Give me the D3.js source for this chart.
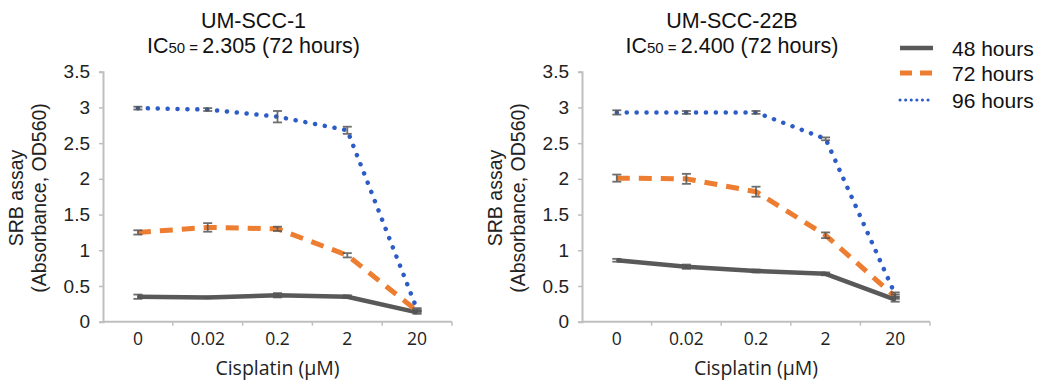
<!DOCTYPE html>
<html>
<head>
<meta charset="utf-8">
<script src="https://cdn.jsdelivr.net/npm/d3@7"></script>
<style>
  html, body { margin: 0; padding: 0; background: #fff; }
  svg { display: block; }
</style>
</head>
<body>
<svg id="chart" width="1040" height="385"></svg>
<script>
// ---- data ----
const categories = ["0", "0.02", "0.2", "2", "20"];
const yTickValues = [0, 0.5, 1, 1.5, 2, 2.5, 3, 3.5];
const yTickLabels = ["0", "0.5", "1", "1.5", "2", "2.5", "3", "3.5"];
const seriesNames = ["48 hours", "72 hours", "96 hours"];

const scc1_48h = [0.35, 0.34, 0.37, 0.35, 0.13];
const scc1_72h = [1.25, 1.32, 1.30, 0.93, 0.15];
const scc1_96h = [2.99, 2.97, 2.87, 2.68, 0.17];
const scc1_48h_err = [0.03, 0.01, 0.03, 0.02, 0.02];
const scc1_72h_err = [0.03, 0.06, 0.03, 0.03, 0.02];
const scc1_96h_err = [0.02, 0.02, 0.08, 0.05, 0.02];

const scc22_48h = [0.86, 0.77, 0.71, 0.67, 0.31];
const scc22_72h = [2.01, 2.00, 1.82, 1.21, 0.35];
const scc22_96h = [2.93, 2.93, 2.93, 2.56, 0.38];
const scc22_48h_err = [0.02, 0.03, 0.02, 0.02, 0.03];
const scc22_72h_err = [0.05, 0.07, 0.07, 0.04, 0.03];
const scc22_96h_err = [0.03, 0.02, 0.02, 0.02, 0.03];

const panels = [
  { title: "UM-SCC-1", ic50: "2.305 (72 hours)", x0: 103, x1: 452,
    series: [scc1_48h, scc1_72h, scc1_96h], errs: [scc1_48h_err, scc1_72h_err, scc1_96h_err] },
  { title: "UM-SCC-22B", ic50: "2.400 (72 hours)", x0: 582, x1: 930,
    series: [scc22_48h, scc22_72h, scc22_96h], errs: [scc22_48h_err, scc22_72h_err, scc22_96h_err] }
];

// ---- styles ----
const styles = [
  { color: "#595959", width: 4.5, dash: null, cap: "butt" },
  { color: "#ED7D31", width: 5, dash: "13 9", cap: "butt" },
  { color: "#2E5CC6", width: 4.5, dash: "0.1 9.8", cap: "round" }
];
const axisColor = "#BFBFBF";
const sansA = "'Liberation Sans', Arial, sans-serif";
const sansB = "'Open Sans', sans-serif";

const svg = d3.select("#chart");
const yTop = 71.7, yBottom = 321.7;

panels.forEach(p => {
  const g = svg.append("g");
  const x = d3.scaleBand().domain(categories).range([p.x0, p.x1]);
  const y = d3.scaleLinear().domain([0, 3.5]).range([yBottom, yTop]);
  const cx = c => x(c) + x.bandwidth() / 2;

  // Title
  const tcx = cx("0.2") - 24;
  g.append("text").attr("x", tcx).attr("y", 28).attr("text-anchor", "middle")
    .style("font-family", sansA).style("font-size", "21.5px").attr("fill", "#111").text(p.title);
  const t2 = g.append("text").attr("x", tcx).attr("y", 53).attr("text-anchor", "middle")
    .style("font-family", sansA).style("font-size", "21.5px").attr("fill", "#111");
  t2.append("tspan").text("IC");
  t2.append("tspan").style("font-size", "15px").text("50");
  t2.append("tspan").style("font-size", "15px").text(" = ");
  t2.append("tspan").text(p.ic50);

  // Y axis
  const yAxis = d3.axisLeft(y).tickValues(yTickValues)
    .tickFormat((d, i) => yTickLabels[i]).tickSize(4).tickPadding(9);
  const ya = g.append("g").attr("transform", `translate(${p.x0},0)`).call(yAxis);
  ya.select(".domain").attr("stroke", axisColor).attr("stroke-width", 2);
  ya.selectAll(".tick line").attr("stroke", axisColor).attr("stroke-width", 1.5);
  ya.selectAll(".tick text").style("font-family", sansA).style("font-size", "19px").attr("fill", "#222");

  // X axis (labels at band centers, tick marks at band boundaries)
  const xa = g.append("g").attr("transform", `translate(0,${yBottom})`);
  xa.append("line").attr("x1", p.x0).attr("x2", p.x1).attr("stroke", axisColor).attr("stroke-width", 2);
  categories.slice(1).concat(["__end"]).forEach(c => {
    const xx = c === "__end" ? p.x1 : x(c);
    xa.append("line").attr("x1", xx).attr("x2", xx).attr("y1", 0).attr("y2", 4)
      .attr("stroke", axisColor).attr("stroke-width", 1.5);
  });
  xa.selectAll("text.xl").data(categories).join("text").attr("class", "xl")
    .attr("x", d => cx(d)).attr("y", 23).attr("text-anchor", "middle")
    .style("font-family", sansB).style("font-size", "17.5px").attr("fill", "#222").text(d => d);

  // Axis titles
  g.append("text").attr("x", cx("0.2")).attr("y", 375).attr("text-anchor", "middle")
    .style("font-family", sansB).style("font-size", "19.5px").attr("fill", "#222").text("Cisplatin (µM)");
  const ylx = p.x0 - 80;
  g.append("text").attr("transform", `translate(${ylx},198) rotate(-90)`).attr("text-anchor", "middle")
    .style("font-family", sansA).style("font-size", "19.5px").attr("fill", "#222").text("SRB assay");
  g.append("text").attr("transform", `translate(${ylx + 23},198) rotate(-90)`).attr("text-anchor", "middle")
    .style("font-family", sansA).style("font-size", "19.5px").attr("fill", "#222").text("(Absorbance, OD560)");

  // Lines
  const line = d3.line().x((d, i) => cx(categories[i])).y(d => y(d));
  p.series.forEach((vals, si) => {
    const s = styles[si];
    g.append("path").datum(vals).attr("d", line).attr("fill", "none")
      .attr("stroke", s.color).attr("stroke-width", s.width)
      .attr("stroke-dasharray", s.dash).attr("stroke-linecap", s.cap)
      .attr("stroke-linejoin", "round");
  });

  // Error bars
  p.series.forEach((vals, si) => {
    vals.forEach((v, i) => {
      const e = p.errs[si][i];
      const xx = cx(categories[i]);
      const eg = g.append("g").attr("stroke", "#555").attr("stroke-width", 1.8).attr("opacity", 0.85);
      eg.append("line").attr("x1", xx).attr("x2", xx).attr("y1", y(v - e)).attr("y2", y(v + e));
      eg.append("line").attr("x1", xx - 4.5).attr("x2", xx + 4.5).attr("y1", y(v - e)).attr("y2", y(v - e));
      eg.append("line").attr("x1", xx - 4.5).attr("x2", xx + 4.5).attr("y1", y(v + e)).attr("y2", y(v + e));
    });
  });
});

// Legend
const lg = svg.append("g");
const legendRows = [48, 73, 100];
seriesNames.forEach((name, i) => {
  const s = styles[i];
  const yy = legendRows[i];
  lg.append("line").attr("x1", 900).attr("x2", 933).attr("y1", yy).attr("y2", yy)
    .attr("stroke", s.color).attr("stroke-width", i === 2 ? 3 : s.width)
    .attr("stroke-dasharray", i === 1 ? "12 8" : (i === 2 ? "0.1 5.5" : null))
    .attr("stroke-linecap", s.cap);
  lg.append("text").attr("x", 952).attr("y", yy + 7.5)
    .style("font-family", sansA).style("font-size", "21px").attr("fill", "#111").text(name);
});
</script>
</body>
</html>
